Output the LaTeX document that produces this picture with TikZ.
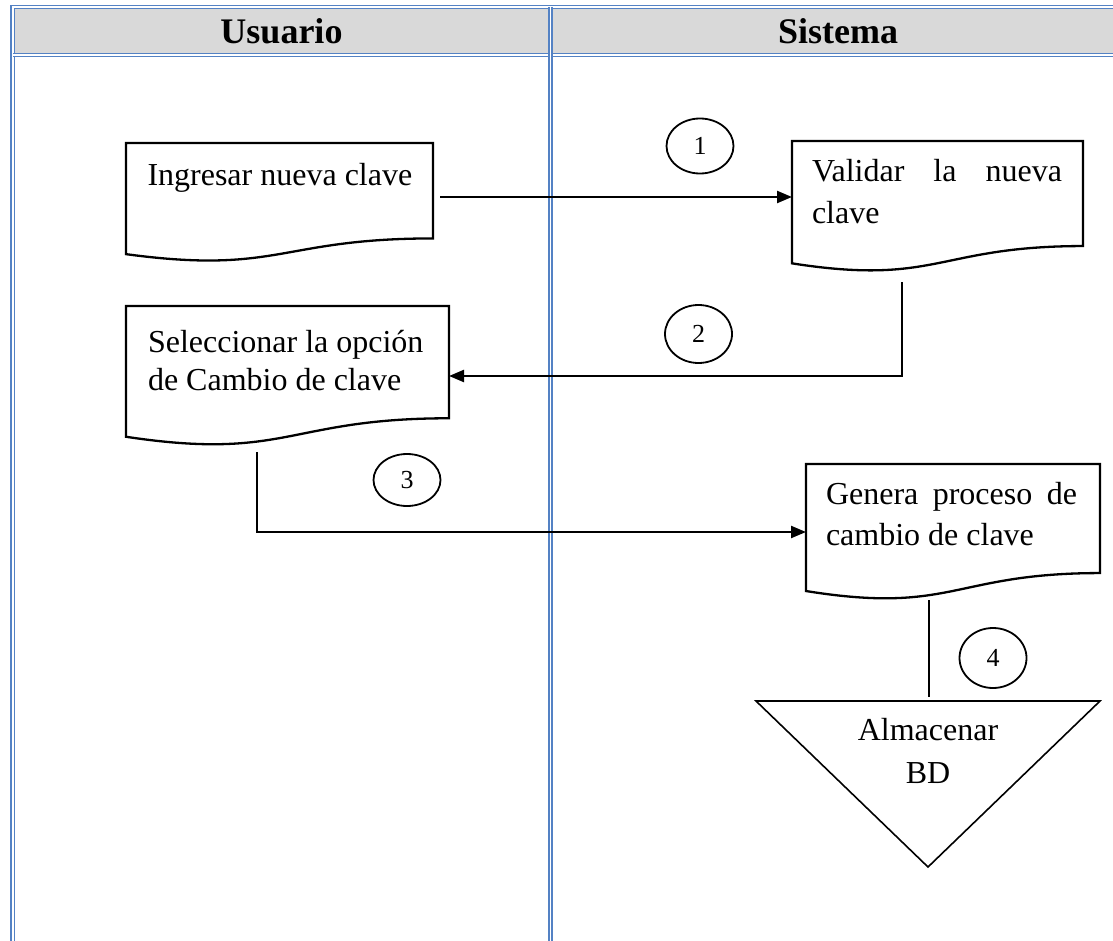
\documentclass[tikz,border=0pt]{standalone}
\usepackage{fontspec}
\setmainfont{Liberation Serif}
\usetikzlibrary{arrows.meta,shapes.geometric,calc}
\definecolor{laneblue}{RGB}{84,130,196}
\definecolor{headgray}{RGB}{217,217,217}
\tikzset{
  lane/.style={draw=laneblue, line width=1.6pt, double=white, double distance=1.6pt},
  area/.style={draw=none, inner sep=0pt, outer sep=0pt},
  docline/.style={draw=black, line width=2.3pt, line join=miter},
  triline/.style={draw=black, line width=1.6pt},
  doctext/.style={inner sep=0pt, outer sep=0pt, align=left, text=black},
  headtext/.style={inner sep=0pt, font=\fontsize{36}{40}\selectfont\bfseries},
  numcirc/.style={ellipse, draw=black, line width=1.8pt, minimum width=67pt, minimum height=57pt, inner sep=0pt, font=\fontsize{26}{26}\selectfont},
  conn/.style={draw=black, line width=2.3pt, -{Triangle[length=15pt,width=12pt]}},
  plainconn/.style={draw=black, line width=2.3pt}
}
\newcommand\docoutline[1]{%
  \draw[docline] (#1.north west) -- (#1.north east)
    -- ($(#1.north east)!0.802!(#1.south east)$)
    .. controls ($(#1.north)!0.802!(#1.south)$) and ($(#1.north)!1.108!(#1.south)$)
    .. ($(#1.north west)!0.934!(#1.south west)$) -- cycle;}
\begin{document}
\begin{tikzpicture}[x=1pt,y=-1pt]
\useasboundingbox (0,0) rectangle (1113,941);
\clip (0,0) rectangle (1113,941);
\fill[white] (0,0) rectangle (1113,941);
% header band
\fill[headgray] (12.8,7) rectangle (1130,55);
\draw[lane] (1130,7) -- (12.8,7) -- (12.8,960);
\draw[lane] (12.8,55) -- (1130,55);
\draw[lane] (550.5,7) -- (550.5,960);
\node[headtext, anchor=base] (h1) at (281.5,44) {Usuario};
\node[headtext, anchor=base] (h2) at (838,44) {Sistema};

% document boxes
\node[area, minimum width=307pt, minimum height=119pt] (b1) at (279.5,202.5) {};
\node[area, minimum width=291pt, minimum height=131pt] (b2) at (937.5,206.5) {};
\node[area, minimum width=323pt, minimum height=140pt] (b3) at (287.5,376) {};
\node[area, minimum width=294pt, minimum height=136pt] (b4) at (953,532) {};
\docoutline{b1}
\docoutline{b2}
\docoutline{b3}
\docoutline{b4}

\node[doctext, anchor=north west, font=\fontsize{32}{40}\selectfont] (t1) at (147.5,163) {Ingresar nueva clave};
\node[doctext, anchor=north west, font=\fontsize{32}{42}\selectfont] (t2) at (812,159) {\makebox[250pt][s]{Validar la nueva}\\clave};
\node[doctext, anchor=north west, font=\fontsize{32}{38}\selectfont] (t3) at (148,330) {Seleccionar la opción\\de Cambio de clave};
\node[doctext, anchor=north west, font=\fontsize{32}{41}\selectfont] (t4) at (826,482) {\makebox[251pt][s]{Genera proceso de}\\cambio de clave};

% storage triangle
\node[area, minimum width=344pt, minimum height=166pt] (tri) at (928,784) {};
\draw[triline] (tri.north west) -- (tri.north east) -- (tri.south) -- cycle;
\node[doctext, align=center, anchor=north, font=\fontsize{32}{43}\selectfont] (tt) at (928,718) {Almacenar\\BD};

% numbered circles
\node[numcirc, minimum height=55pt] (c1) at (700,146) {1};
\node[numcirc, minimum height=58pt] (c2) at (698.5,334) {2};
\node[numcirc, minimum height=52pt] (c3) at (407,480) {3};
\node[numcirc, minimum height=60pt] (c4) at (993,658) {4};

% connectors
\coordinate (y1) at (0,197);
\coordinate (x2) at (902,0);
\coordinate (x3) at (257,0);
\coordinate (x4) at (929,0);
\draw[conn, shorten <=7pt] (b1.east |- y1) -- (b2.west |- y1);
\draw[conn, shorten <=10pt] (b2.south -| x2) |- (b3.east);
\draw[conn, shorten <=6pt] (b3.south -| x3) |- (b4.west);
\draw[plainconn, shorten >=4pt] (b4.south -| x4) -- (tri.north -| x4);
\end{tikzpicture}
\end{document}
